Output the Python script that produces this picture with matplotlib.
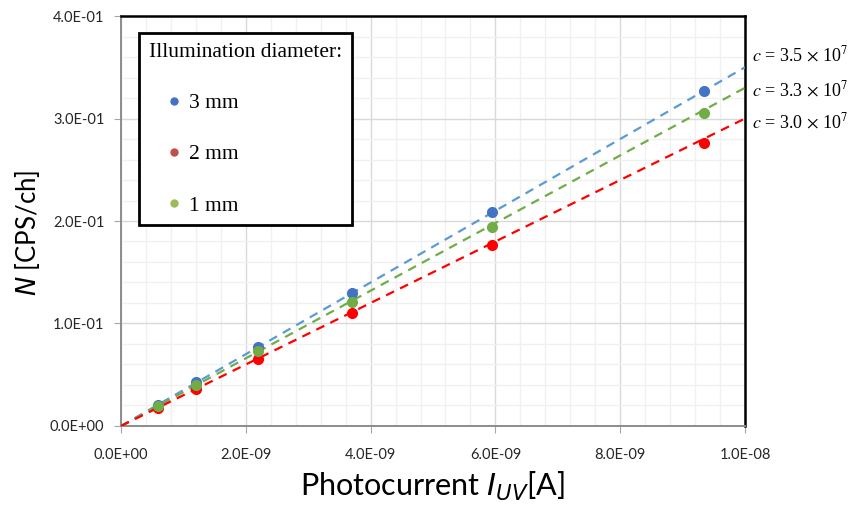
import matplotlib
matplotlib.use('Agg')
import matplotlib.pyplot as plt
from matplotlib.lines import Line2D
from matplotlib.ticker import MultipleLocator, FuncFormatter

plt.rcParams['mathtext.fontset'] = 'stix'

# data
current = [0.59e-9, 1.2e-9, 2.2e-9, 3.7e-9, 5.95e-9, 9.34e-9]
n_3mm = [0.0205, 0.043, 0.077, 0.130, 0.209, 0.327]
n_2mm = [0.0175, 0.036, 0.065, 0.110, 0.177, 0.276]
n_1mm = [0.0195, 0.040, 0.073, 0.121, 0.194, 0.305]

slopes = [3.5e7, 3.3e7, 3.0e7]
slope_labels = ['3.5', '3.3', '3.0']
label_y = [0.362, 0.328, 0.297]

fit_x = [0, 1.0e-8]

fig = plt.figure(figsize=(8.61, 5.07), dpi=100)
ax = fig.add_axes([0.1405, 0.1598, 0.7248, 0.8086])

# fitted lines through origin
ax.plot(fit_x, [slopes[0] * x for x in fit_x], ls=(0, (4, 3)), color='#5B9BD5', lw=1.6, zorder=3)
ax.plot(fit_x, [slopes[1] * x for x in fit_x], ls=(0, (4, 3)), color='#70AD47', lw=1.6, zorder=3)
ax.plot(fit_x, [slopes[2] * x for x in fit_x], ls=(0, (4, 3)), color='#FF0000', lw=1.6, zorder=3)

ax.plot(current, n_3mm, 'o', color='#4472C4', ms=7, zorder=4)
ax.plot(current, n_2mm, 'o', color='#FF0000', ms=7, zorder=4)
ax.plot(current, n_1mm, 'o', color='#70AD47', ms=7, zorder=4)

ax.set_xlim(0, 1.0e-8)
ax.set_ylim(0, 0.4)
ax.xaxis.set_major_locator(MultipleLocator(2e-9))
ax.xaxis.set_minor_locator(MultipleLocator(0.4e-9))
ax.yaxis.set_major_locator(MultipleLocator(0.1))
ax.yaxis.set_minor_locator(MultipleLocator(0.02))

def sci(v, pos):
    return '%.1E' % v

ax.xaxis.set_major_formatter(FuncFormatter(sci))
ax.yaxis.set_major_formatter(FuncFormatter(sci))

ax.grid(which='major', color='#D9D9D9', lw=1.0, zorder=0)
ax.grid(which='minor', color='#F0F0F0', lw=1.0, zorder=0)
ax.set_axisbelow(True)

ax.tick_params(which='major', direction='out', length=5, color='#A6A6A6',
               labelsize=10.5, labelcolor='#262626')
ax.tick_params(axis='x', pad=11)
ax.tick_params(axis='y', pad=7)
ax.tick_params(which='minor', length=0)
for lab in ax.get_xticklabels() + ax.get_yticklabels():
    lab.set_family('Lato')

for side in ['left', 'bottom']:
    ax.spines[side].set_color('#8C8C8C')
    ax.spines[side].set_linewidth(1.4)
for side in ['top', 'right']:
    ax.spines[side].set_color('black')
    ax.spines[side].set_linewidth(1.8)

ax.set_ylabel(r'$\mathit{N}$ [CPS/ch]', fontsize=18.5, family='Lato',
              math_fontfamily='dejavusans')
ax.yaxis.set_label_coords(-0.127, 0.47)
ax.set_xlabel(r'Photocurrent $\mathit{I}_{\mathit{UV}}$[A]', fontsize=22, family='Lato',
              math_fontfamily='dejavusans')
ax.xaxis.set_label_coords(0.50, -0.108)

handles = [
    Line2D([], [], marker='o', ls='none', color='#4472C4', ms=5),
    Line2D([], [], marker='o', ls='none', color='#C0504D', ms=5),
    Line2D([], [], marker='o', ls='none', color='#9BBB59', ms=5),
]
leg = ax.legend(handles, ['3 mm', '2 mm', '1 mm'], title='Illumination diameter:',
                loc='upper left', bbox_to_anchor=(0.029, 0.958), borderaxespad=0,
                prop={'family': 'Liberation Serif', 'size': 15.5},
                title_fontproperties={'family': 'Liberation Serif', 'size': 15.5},
                alignment='left', labelspacing=1.45, handlelength=2.3,
                handletextpad=-0.45, borderpad=0.45, fancybox=False,
                edgecolor='black', framealpha=1)
leg.get_frame().set_linewidth(2)
leg.set_zorder(6)

for lbl, yy in zip(slope_labels, label_y):
    ax.text(1.011e-8, yy, r'$c$ = %s $\times$ 10$^7$' % lbl, fontsize=13,
            family='Liberation Serif', va='center', ha='left', clip_on=False)

fig.savefig('out.png', dpi=100)
